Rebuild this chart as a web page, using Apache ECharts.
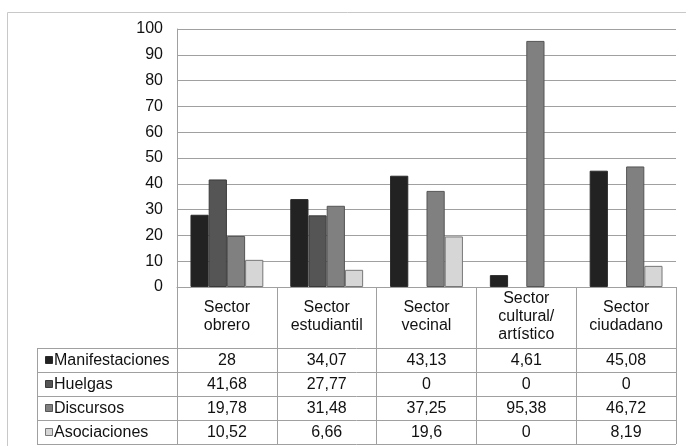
<!DOCTYPE html>
<html lang="es">
<head>
  <meta charset="UTF-8">
  <title>Sectores</title>
  <script src="https://cdn.jsdelivr.net/npm/echarts@6/dist/echarts.min.js"></script>
  <style>
    html, body, #container { width: 100%; height: 100%; margin: 0; padding: 0; overflow: hidden; background: #fff; }
  </style>
</head>
<body>
  <div id="container"></div>
  <script>
    var categories = ['Sector\nobrero', 'Sector\nestudiantil', 'Sector\nvecinal', 'Sector\ncultural/\nartístico', 'Sector\nciudadano'];
    var seriesNames = ['Manifestaciones', 'Huelgas', 'Discursos', 'Asociaciones'];
    var manifestaciones = [28, 34.07, 43.13, 4.61, 45.08];
    var huelgas = [41.68, 27.77, 0, 0, 0];
    var discursos = [19.78, 31.48, 37.25, 95.38, 46.72];
    var asociaciones = [10.52, 6.66, 19.6, 0, 8.19];
    var seriesData = [manifestaciones, huelgas, discursos, asociaciones];

    var colors = ['#222222', '#555555', '#808080', '#d6d6d6'];
    var borders = ['#2a2a2a', '#3a3a3a', '#555555', '#777777'];
    var font = '"Liberation Sans", Arial, sans-serif';
    var lineColor = '#a0a0a0';

    var W = 686, H = 446;
    var gridLeft = 177, gridRight = 10, gridTop = 29, zeroY = 287;
    var tableLeft = 37, rowTop = 348, rowH = 24;

    var chart = echarts.init(document.getElementById('container'), null, { renderer: 'canvas' });

    var series = seriesNames.map(function (name, i) {
      return {
        name: name,
        type: 'bar',
        // zero values get no outline so they stay invisible, like the original
        data: seriesData[i].map(function (v) {
          return v === 0 ? { value: v, itemStyle: { borderWidth: 0 } } : v;
        }),
        barGap: '0%',
        barCategoryGap: '27%',
        itemStyle: { color: colors[i], borderColor: borders[i], borderWidth: 1 },
        emphasis: { disabled: true }
      };
    });

    function fmt(v) { return String(v).replace('.', ','); }

    function buildTable() {
      var g = [];
      var plotRight = W - gridRight;
      // outer frame
      g.push({ type: 'rect', shape: { x: 7.5, y: 12.5, width: 720, height: 480 },
        style: { fill: 'none', stroke: '#c8c8c8', lineWidth: 1 }, silent: true });
      // horizontal row lines
      for (var r = 0; r <= seriesNames.length; r++) {
        var y = rowTop + r * rowH + 0.5;
        g.push({ type: 'line', shape: { x1: tableLeft, y1: y, x2: plotRight, y2: y },
          style: { stroke: lineColor, lineWidth: 1 }, silent: true });
      }
      // left edge of legend column
      g.push({ type: 'line', shape: { x1: tableLeft + 0.5, y1: rowTop, x2: tableLeft + 0.5, y2: rowTop + 4 * rowH },
        style: { stroke: lineColor, lineWidth: 1 }, silent: true });
      // rows
      seriesNames.forEach(function (name, i) {
        var cy = rowTop + i * rowH + rowH / 2 + 1;
        g.push({ type: 'rect', shape: { x: 45.5, y: cy - 4.5, width: 7, height: 7 },
          style: { fill: colors[i], stroke: borders[i], lineWidth: 1 }, silent: true });
        g.push({ type: 'text', x: 54, y: cy, silent: true,
          style: { text: name, font: '16px ' + font, fill: '#111', verticalAlign: 'middle', align: 'left' } });
        seriesData[i].forEach(function (v, j) {
          var px = chart.convertToPixel({ xAxisIndex: 0 }, j);
          g.push({ type: 'text', x: px, y: cy, silent: true,
            style: { text: fmt(v), font: '16px ' + font, fill: '#111', verticalAlign: 'middle', align: 'center' } });
        });
      });
      return g;
    }

    chart.setOption({
      animation: false,
      grid: { left: gridLeft, right: gridRight, top: gridTop, bottom: H - zeroY },
      legend: { show: false },
      xAxis: {
        type: 'category',
        data: categories,
        axisLine: { show: true, lineStyle: { color: lineColor, width: 1 } },
        axisTick: { show: true, length: rowTop + 4 * rowH - zeroY, lineStyle: { color: lineColor } },
        axisLabel: {
          margin: 30, verticalAlign: 'middle', lineHeight: 18,
          fontFamily: font, fontSize: 16, color: '#111', interval: 0
        }
      },
      yAxis: {
        type: 'value',
        min: 0, max: 100, interval: 10,
        axisLine: { show: true, lineStyle: { color: lineColor } },
        axisTick: { show: false },
        axisLabel: { margin: 14, fontFamily: font, fontSize: 16, color: '#111' },
        splitLine: { lineStyle: { color: lineColor, width: 1 } }
      },
      series: series
    });

    chart.setOption({ graphic: buildTable() });
  </script>
</body>
</html>
